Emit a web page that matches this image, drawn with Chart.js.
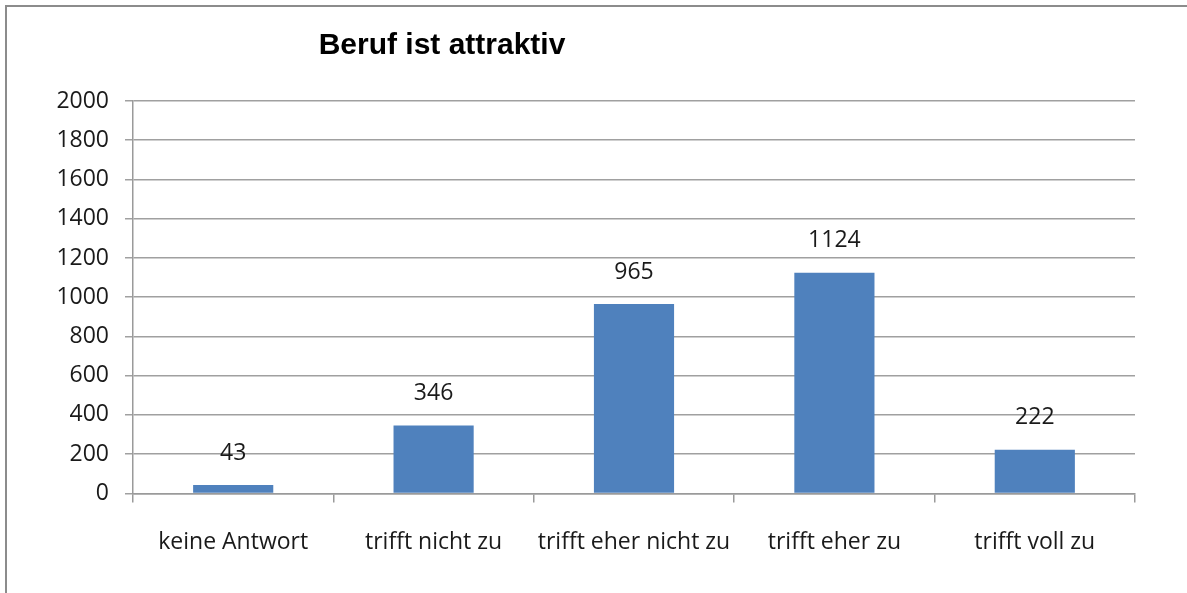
<!DOCTYPE html>
<html>
<head>
<meta charset="utf-8">
<script src="https://cdn.jsdelivr.net/npm/chart.js@4/dist/chart.umd.min.js"></script>
<style>
  html, body { margin: 0; padding: 0; background: #fff; overflow: hidden; }
  #frame { position: absolute; left: 5px; top: 5px; width: 1300px; height: 700px; border: 2px solid #8c8c8c; }
  #wrap { position: absolute; left: 0; top: 0; width: 1187px; height: 593px; }
</style>
</head>
<body>
<div id="frame"></div>
<div id="wrap"><canvas id="chart"></canvas></div>
<script>
  const categories = ["keine Antwort", "trifft nicht zu", "trifft eher nicht zu", "trifft eher zu", "trifft voll zu"];
  const counts = [43, 346, 965, 1124, 222];
  const yTicks = [0, 200, 400, 600, 800, 1000, 1200, 1400, 1600, 1800, 2000];
  const chartTitle = "Beruf ist attraktiv";

  const FONT = "'Open Sans', Lato, sans-serif";

  // values above the bars
  const barLabels = {
    id: "barLabels",
    afterDatasetsDraw(chart) {
      const ctx = chart.ctx;
      const meta = chart.getDatasetMeta(0);
      ctx.save();
      ctx.font = "23px " + FONT;
      ctx.fillStyle = "#1a1a1a";
      ctx.textAlign = "center";
      ctx.textBaseline = "middle";
      meta.data.forEach((bar, i) => {
        ctx.fillText(String(counts[i]), bar.x, bar.y - 32);
      });
      ctx.restore();
    }
  };

  // title sits left of centre like in the original
  const titlePlugin = {
    id: "titlePlugin",
    afterDraw(chart) {
      const ctx = chart.ctx;
      ctx.save();
      ctx.font = "bold 30px 'Liberation Sans', Arial, sans-serif";
      ctx.fillStyle = "#000";
      ctx.textAlign = "center";
      ctx.textBaseline = "middle";
      ctx.fillText(chartTitle, 442, 46);
      ctx.restore();
    }
  };

  new Chart(document.getElementById("chart"), {
    type: "bar",
    data: {
      labels: categories,
      datasets: [
        {
          label: chartTitle,
          data: counts,
          backgroundColor: "#4f81bd",
          borderWidth: 0,
          barPercentage: 0.4,
          categoryPercentage: 1.0,
        },
      ],
    },
    options: {
      responsive: true,
      maintainAspectRatio: false,
      animation: false,
      layout: { padding: { top: 101, right: 52, bottom: 11, left: 0 } },
      plugins: {
        legend: { display: false },
        title: { display: false },
        tooltip: { enabled: false },
      },
      scales: {
        x: {
          grid: {
            display: true,
            drawOnChartArea: false,
            drawTicks: true,
            tickLength: 9,
            color: "#9a9a9a",
            lineWidth: 1.5,
          },
          border: { color: "#9a9a9a", width: 1.5 },
          ticks: {
            color: "#1a1a1a",
            font: { family: FONT, size: 23 },
            padding: 26,
            maxRotation: 0,
          },
        },
        y: {
          min: 0,
          max: 2000,
          afterBuildTicks(scale) {
            scale.ticks = yTicks.map(v => ({ value: v }));
          },
          afterFit(scale) {
            scale.width = 133;
          },
          grid: {
            color: "#a0a0a0",
            lineWidth: 1.5,
            tickLength: 8,
          },
          border: { color: "#9a9a9a", width: 1.5 },
          ticks: {
            color: "#1a1a1a",
            font: { family: FONT, size: 23 },
            padding: 16,
            callback: v => String(v),
          },
        },
      },
    },
    plugins: [barLabels, titlePlugin],
  });
</script>
</body>
</html>
